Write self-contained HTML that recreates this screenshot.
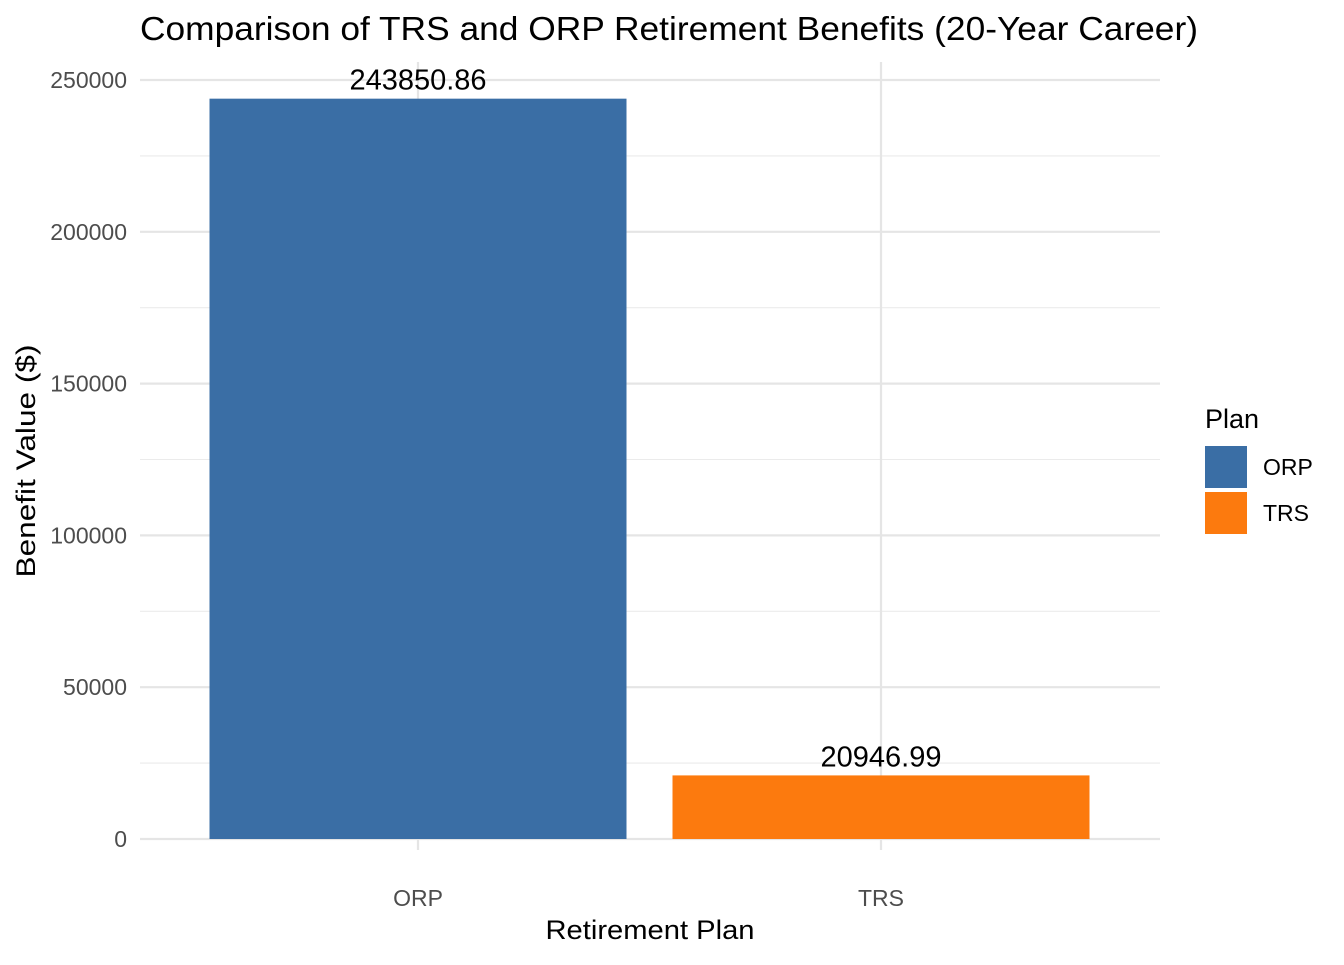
<!DOCTYPE html>
<html><head><meta charset="utf-8"><style>
body{margin:0;background:#fff;}
svg text{font-family:"Liberation Sans",Arial,sans-serif;}
</style></head><body>
<svg id="chart" width="1344" height="960" xmlns="http://www.w3.org/2000/svg">
<rect width="1344" height="960" fill="#fff"/>
<text x="140" y="40" font-size="33" fill="#000" textLength="1058" lengthAdjust="spacingAndGlyphs">Comparison of TRS and ORP Retirement Benefits (20-Year Career)</text>
<g id="grid"></g>
<g id="bars"></g>
<g id="ylabels"></g>
<g id="xlabels"></g>
<text x="650" y="939" font-size="27" text-anchor="middle" fill="#000" textLength="209" lengthAdjust="spacingAndGlyphs">Retirement Plan</text>
<text transform="translate(35,461) rotate(-90)" font-size="27" text-anchor="middle" fill="#000" textLength="233" lengthAdjust="spacingAndGlyphs">Benefit Value ($)</text>
<g id="legend">
<text x="1205" y="428" font-size="27" fill="#000">Plan</text>
</g>
</svg>
<script>
const categories = ["ORP", "TRS"];
const values = [243850.86, 20946.99];
const valueLabels = ["243850.86", "20946.99"];
const yTicks = [0, 50000, 100000, 150000, 200000, 250000];
const colors = ["#3A6EA5", "#FC7A0E"];
const NS = "http://www.w3.org/2000/svg";
const y0 = 839, pxPer = (839 - 80) / 250000;
const yScale = v => y0 - v * pxPer;
const xCenter = i => 418 + i * 463;
const barW = 417;
function mk(tag, attrs, parent, text) {
  const e = document.createElementNS(NS, tag);
  for (const k in attrs) e.setAttribute(k, attrs[k]);
  if (text !== undefined) e.textContent = text;
  parent.appendChild(e);
  return e;
}
const grid = document.getElementById('grid');
for (let i = 0; i < yTicks.length - 1; i++) {
  const m = (yTicks[i] + yTicks[i + 1]) / 2;
  const l = mk('line', {x1: 140, x2: 1160, y1: yScale(m), y2: yScale(m), stroke: '#ebebeb', 'stroke-width': 1.1}, grid);
  
  
}
yTicks.forEach(t => {
  const l = mk('line', {x1: 140, x2: 1160, y1: yScale(t), y2: yScale(t), stroke: '#e5e5e5', 'stroke-width': 2.2}, grid);
  
  
  const tx = mk('text', {x: 127, y: yScale(t) + 8, 'font-size': 23, 'text-anchor': 'end', fill: '#4d4d4d'}, document.getElementById('ylabels'), String(t));
  
  
});
categories.forEach((c, i) => {
  const l = mk('line', {x1: xCenter(i), x2: xCenter(i), y1: 62, y2: 850, stroke: '#e5e5e5', 'stroke-width': 2.2}, grid);
  
  
  const r = mk('rect', {x: xCenter(i) - barW / 2, y: yScale(values[i]), width: barW, height: y0 - yScale(values[i]), fill: colors[i]}, document.getElementById('bars'));
  
  
  const vl = mk('text', {x: xCenter(i), y: yScale(values[i]) - 9, 'font-size': 29, 'text-anchor': 'middle', fill: '#000'}, document.getElementById('bars'), valueLabels[i]);
  
  
  const xl = mk('text', {x: xCenter(i), y: 906, 'font-size': 23, 'text-anchor': 'middle', fill: '#4d4d4d'}, document.getElementById('xlabels'), c);
  
  
  const lg = document.getElementById('legend');
  const k = mk('rect', {x: 1205, y: 446 + i * 46, width: 42, height: 42, fill: colors[i]}, lg);
  
  
  const lt = mk('text', {x: 1263, y: 475 + i * 46, 'font-size': 23, fill: '#000'}, lg, c);
  
  
});
</script>
</body></html>
